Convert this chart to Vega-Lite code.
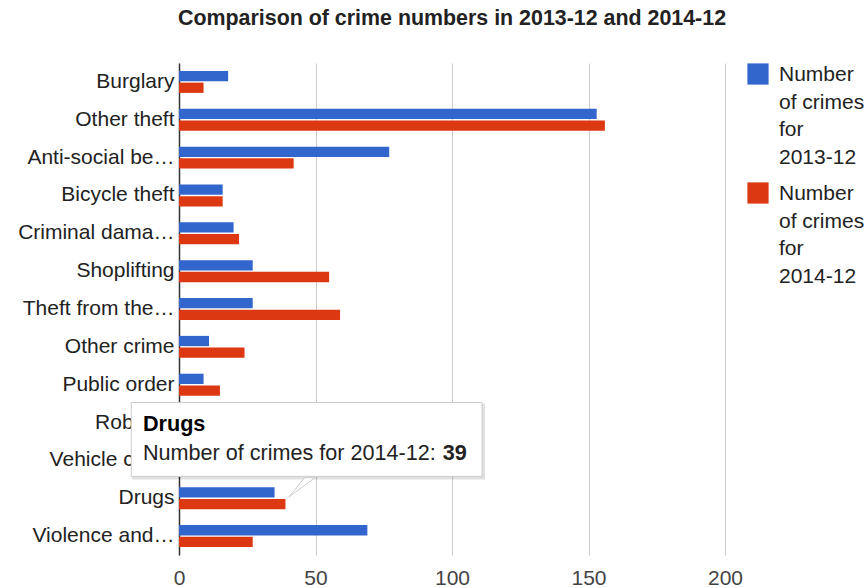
{
  "$schema": "https://vega.github.io/schema/vega-lite/v6.json",
  "width": 546,
  "height": 492,
  "autosize": "none",
  "padding": {"left": 179, "top": 63, "right": 142, "bottom": 33},
  "background": "#ffffff",
  "config": {
    "font": "Liberation Sans",
    "view": {"stroke": null}
  },
  "title": {
    "text": "Comparison of crime numbers in 2013-12 and 2014-12",
    "fontSize": 21.4,
    "fontWeight": "bold",
    "font": "Liberation Sans",
    "color": "#222222",
    "anchor": "middle",
    "offset": 34
  },
  "datasets": {
    "crimes": [
      {"crime": "Burglary", "series": "Number of crimes for 2013-12", "count": 18},
      {"crime": "Burglary", "series": "Number of crimes for 2014-12", "count": 9},
      {"crime": "Other theft", "series": "Number of crimes for 2013-12", "count": 153},
      {"crime": "Other theft", "series": "Number of crimes for 2014-12", "count": 156},
      {"crime": "Anti-social behaviour", "series": "Number of crimes for 2013-12", "count": 77},
      {"crime": "Anti-social behaviour", "series": "Number of crimes for 2014-12", "count": 42},
      {"crime": "Bicycle theft", "series": "Number of crimes for 2013-12", "count": 16},
      {"crime": "Bicycle theft", "series": "Number of crimes for 2014-12", "count": 16},
      {"crime": "Criminal damage and arson", "series": "Number of crimes for 2013-12", "count": 20},
      {"crime": "Criminal damage and arson", "series": "Number of crimes for 2014-12", "count": 22},
      {"crime": "Shoplifting", "series": "Number of crimes for 2013-12", "count": 27},
      {"crime": "Shoplifting", "series": "Number of crimes for 2014-12", "count": 55},
      {"crime": "Theft from the person", "series": "Number of crimes for 2013-12", "count": 27},
      {"crime": "Theft from the person", "series": "Number of crimes for 2014-12", "count": 59},
      {"crime": "Other crime", "series": "Number of crimes for 2013-12", "count": 11},
      {"crime": "Other crime", "series": "Number of crimes for 2014-12", "count": 24},
      {"crime": "Public order", "series": "Number of crimes for 2013-12", "count": 9},
      {"crime": "Public order", "series": "Number of crimes for 2014-12", "count": 15},
      {"crime": "Robbery", "series": "Number of crimes for 2013-12", "count": 3},
      {"crime": "Robbery", "series": "Number of crimes for 2014-12", "count": 4},
      {"crime": "Vehicle crime", "series": "Number of crimes for 2013-12", "count": 12},
      {"crime": "Vehicle crime", "series": "Number of crimes for 2014-12", "count": 9},
      {"crime": "Drugs", "series": "Number of crimes for 2013-12", "count": 35},
      {"crime": "Drugs", "series": "Number of crimes for 2014-12", "count": 39},
      {"crime": "Violence and sexual offences", "series": "Number of crimes for 2013-12", "count": 69},
      {"crime": "Violence and sexual offences", "series": "Number of crimes for 2014-12", "count": 27}
    ],
    "tip": [
      {"heading": "Drugs", "line": "Number of crimes for 2014-12: ", "value": "39"}
    ]
  },
  "encoding": {
    "y": {
      "field": "crime",
      "type": "nominal",
      "sort": null,
      "scale": {
        "domain": ["Burglary", "Other theft", "Anti-social behaviour", "Bicycle theft", "Criminal damage and arson", "Shoplifting", "Theft from the person", "Other crime", "Public order", "Robbery", "Vehicle crime", "Drugs", "Violence and sexual offences"],
        "paddingInner": 0.42,
        "paddingOuter": 0.21
      },
      "axis": {
        "title": null,
        "ticks": false,
        "tickSize": 0,
        "domain": true,
        "domainColor": "#333333",
        "domainWidth": 1.5,
        "grid": false,
        "labelFontSize": 21,
        "labelColor": "#222222",
        "labelPadding": 5,
        "labelLimit": 250,
        "labelExpr": "datum.label == 'Anti-social behaviour' ? 'Anti-social be…' : datum.label == 'Criminal damage and arson' ? 'Criminal dama…' : datum.label == 'Theft from the person' ? 'Theft from the…' : datum.label == 'Violence and sexual offences' ? 'Violence and…' : datum.label"
      }
    }
  },
  "layer": [
    {
      "data": {"name": "crimes"},
      "mark": {"type": "bar"},
      "encoding": {
        "x": {
          "field": "count",
          "type": "quantitative",
          "scale": {"domain": [0, 200], "nice": false},
          "axis": {
            "title": null,
            "values": [0, 50, 100, 150, 200],
            "grid": true,
            "gridColor": "#cccccc",
            "gridWidth": 1,
            "domain": false,
            "ticks": false,
            "tickSize": 0,
            "labelFlush": false,
            "labelFontSize": 21,
            "labelColor": "#444444",
            "labelPadding": 12
          }
        },
        "yOffset": {
          "field": "series",
          "type": "nominal",
          "scale": {"paddingInner": 0.12}
        },
        "color": {
          "field": "series",
          "type": "nominal",
          "scale": {
            "domain": ["Number of crimes for 2013-12", "Number of crimes for 2014-12"],
            "range": ["#3366cc", "#dc3912"]
          },
          "legend": {
            "title": null,
            "orient": "right",
            "offset": 22,
            "padding": 0,
            "symbolType": "square",
            "symbolSize": 450,
            "symbolStrokeWidth": 0,
            "labelFontSize": 21,
            "labelColor": "#222222",
            "labelOffset": 10,
            "labelLimit": 200,
            "rowPadding": 14,
            "labelBaseline": "top",
            "labelExpr": "['Number', 'of crimes', 'for', substring(datum.label, 21)]",
            "encode": {
              "labels": {"update": {"lineHeight": {"value": 27.6}, "dy": {"value": -10}}}
            }
          }
        }
      }
    },
    {
      "data": {"name": "tip"},
      "mark": {"type": "rect", "fill": "#000000", "opacity": 0.12, "yOffset": -19, "y2Offset": 19, "xOffset": 1, "x2Offset": 3},
      "encoding": {
        "x": {"datum": -17.5},
        "x2": {"datum": 111},
        "y": {"datum": "Robbery"},
        "y2": {"datum": "Vehicle crime"}
      }
    },
    {
      "data": {"name": "tip"},
      "mark": {"type": "rect", "fill": "#ffffff", "stroke": "#cccccc", "strokeWidth": 1, "yOffset": -20, "y2Offset": 16},
      "encoding": {
        "x": {"datum": -17.5},
        "x2": {"datum": 111},
        "y": {"datum": "Robbery"},
        "y2": {"datum": "Vehicle crime"}
      }
    },
    {
      "data": {"name": "tip"},
      "mark": {"type": "point", "shape": "M 0,-0.1 L 1.6,-2.05 L 2.6,-2.05 Z", "size": 400, "filled": true, "fill": "#ffffff", "stroke": "#cccccc", "strokeWidth": 1, "opacity": 1},
      "encoding": {
        "x": {"datum": 40.2},
        "y": {"datum": "Drugs"}
      }
    },
    {
      "data": {"name": "tip"},
      "mark": {"type": "text", "align": "left", "baseline": "alphabetic", "fontSize": 21.6, "fontWeight": "bold", "color": "#000000", "dy": 8.5},
      "encoding": {
        "x": {"datum": -13.2},
        "y": {"datum": "Robbery"},
        "text": {"field": "heading"}
      }
    },
    {
      "data": {"name": "tip"},
      "mark": {"type": "text", "align": "left", "baseline": "alphabetic", "fontSize": 21.6, "color": "#222222", "dy": 0},
      "encoding": {
        "x": {"datum": -13.2},
        "y": {"datum": "Vehicle crime"},
        "text": {"field": "line"}
      }
    },
    {
      "data": {"name": "tip"},
      "mark": {"type": "text", "align": "right", "baseline": "alphabetic", "fontSize": 21.6, "fontWeight": "bold", "color": "#222222", "dy": 0},
      "encoding": {
        "x": {"datum": 105.4},
        "y": {"datum": "Vehicle crime"},
        "text": {"field": "value"}
      }
    }
  ]
}
